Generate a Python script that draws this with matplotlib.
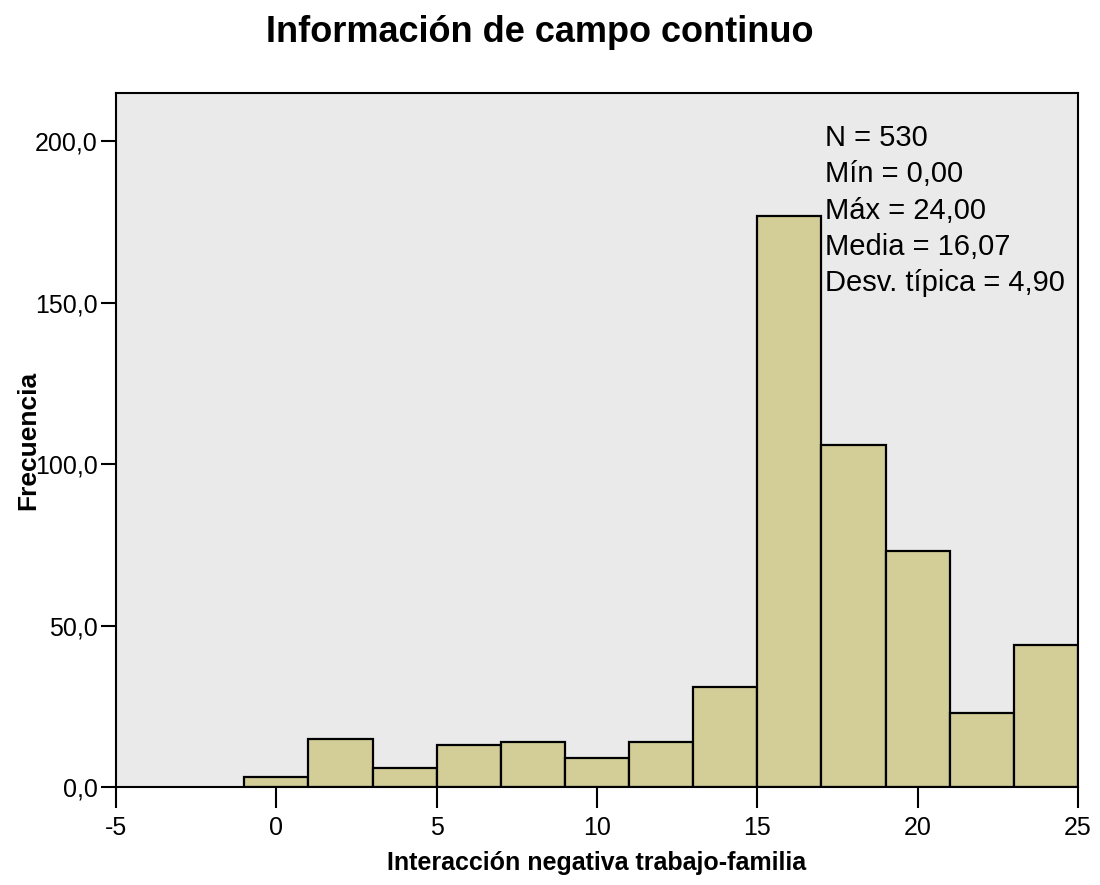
import matplotlib
matplotlib.use("Agg")
import matplotlib.pyplot as plt
from matplotlib import font_manager

# pick a condensed face if there is one
names = {f.name for f in font_manager.fontManager.ttflist}
if "Liberation Sans Narrow" in names:
    fam = ["Liberation Sans Narrow", "DejaVu Sans"]
else:
    fam = ["Liberation Sans", "DejaVu Sans"]
plt.rcParams["font.family"] = fam

# histogram data (bin edges and counts)
bin_left = [-1, 1, 3, 5, 7, 9, 11, 13, 15, 17, 19, 21, 23]
counts = [3, 15, 6, 13, 14, 9, 14, 31, 177, 106, 73, 23, 44]
bin_width = 2

x_ticks = [-5, 0, 5, 10, 15, 20, 25]
y_ticks = [0, 50, 100, 150, 200]
y_labels = ["0,0", "50,0", "100,0", "150,0", "200,0"]

stats = ["N = 530", "Mín = 0,00", "Máx = 24,00", "Media = 16,07", "Desv. típica = 4,90"]

fig = plt.figure(figsize=(11, 8.85), dpi=100)
ax = fig.add_axes([0.1055, 0.1107, 0.8745, 0.7842])
ax.set_facecolor("#eaeaea")

ax.bar(bin_left, counts, width=bin_width, align="edge",
       color="#d3ce97", edgecolor="black", linewidth=1.6, zorder=2)

ax.set_xlim(-5, 25)
ax.set_ylim(0, 215)
ax.set_xticks(x_ticks)
ax.set_xticklabels([str(t) for t in x_ticks])
ax.set_yticks(y_ticks)
ax.set_yticklabels(y_labels)
ax.tick_params(axis="x", length=15, width=1.5, labelsize=18, pad=6, colors="black")
ax.tick_params(axis="y", length=11, width=1.5, labelsize=18, pad=2, colors="black")
for s in ax.spines.values():
    s.set_linewidth(1.5)
    s.set_color("black")

ax.set_xlabel("Interacción negativa trabajo-familia", fontsize=18, fontweight="bold", labelpad=8)
fig.text(28 / 1100, 1 - 440 / 885, "Frecuencia", rotation=90, fontsize=19,
         fontweight="bold", ha="center", va="center")
fig.suptitle("Información de campo continuo", fontsize=26, fontweight="bold",
             x=540 / 1100, y=0.983)

ax.text(0.7375, 0.955, "\n".join(stats), transform=ax.transAxes,
        fontsize=21, va="top", ha="left", linespacing=1.37, zorder=3)

fig.savefig("out.png", dpi=100)
